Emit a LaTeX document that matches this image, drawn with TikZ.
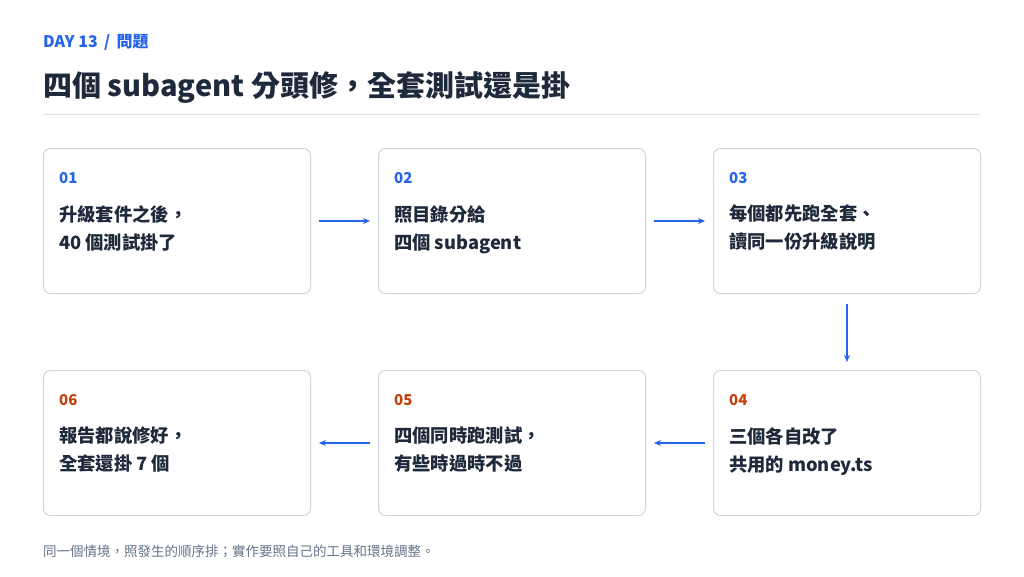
\documentclass[tikz,border=0pt]{standalone}
\usepackage{fontspec}
\setmainfont{Noto Sans CJK TC}
\usetikzlibrary{arrows.meta}
\definecolor{blu}{HTML}{2563EB}
\definecolor{org}{HTML}{C2410C}
\definecolor{ink}{HTML}{1E293B}
\definecolor{bd}{HTML}{CDD5DF}
\definecolor{gr}{HTML}{64748B}
\begin{document}
\begin{tikzpicture}[x=1pt,y=-1pt,
 box/.style={draw=bd,line width=1pt,rounded corners=7pt,minimum width=267pt,minimum height=145pt,anchor=north west},
 num/.style={anchor=west,font=\bfseries\fontsize{15}{15}\selectfont},
 txt/.style={anchor=north west,font=\bfseries\fontsize{18.3}{28}\selectfont,text=ink,align=left,inner sep=0pt},
 arr/.style={-{Stealth[length=7pt,width=6pt]},draw=blu,line width=1.2pt,shorten >=8pt,shorten <=8pt}]
\useasboundingbox (0,0) rectangle (1024,576);
\fill[white] (0,0) rectangle (1024,576);
\node[anchor=west,text=blu,font=\bfseries\fontsize{16}{16}\selectfont,inner sep=0pt] (tag) at (43,42) {DAY 13 \,/\, 問題};
\node[anchor=west,text=ink,font=\bfseries\fontsize{29}{29}\selectfont,inner sep=0pt] (title) at (43,87) {四個 subagent 分頭修，全套測試還是掛};
\draw[bd!70,line width=0.8pt] (43,114) -- (980,114);
\node[box] (b1) at (43,148) {};
\node[box] (b2) at (378,148) {};
\node[box] (b3) at (713,148) {};
\node[box] (b4) at (713,370) {};
\node[box] (b5) at (378,370) {};
\node[box] (b6) at (43,370) {};
\foreach \b/\n/\c/\t in {b1/01/blu/{升級套件之後，\\40 個測試掛了},b2/02/blu/{照目錄分給\\四個 subagent},b3/03/blu/{每個都先跑全套、\\讀同一份升級說明},b4/04/org/{三個各自改了\\共用的 money.ts},b5/05/org/{四個同時跑測試，\\有些時過時不過},b6/06/org/{報告都說修好，\\全套還掛 7 個}}{
 \node[num,text=\c,inner sep=0pt] (\b n) at ([xshift=16pt,yshift=-30pt]\b.north west) {\n};
 \node[txt] (\b t) at ([xshift=16pt,yshift=-57pt]\b.north west) {\t};
}
\draw[arr] (b1.east) -- (b2.west);
\draw[arr] (b2.east) -- (b3.west);
\draw[arr] ([yshift=-2pt]b3.south) -- (b4.north);
\draw[arr] (b4.west) -- (b5.east);
\draw[arr] (b5.west) -- (b6.east);
\node[anchor=west,text=gr,font=\fontsize{13.5}{14}\selectfont,inner sep=0pt] (foot) at (43,551) {同一個情境，照發生的順序排；實作要照自己的工具和環境調整。};
\end{tikzpicture}
\end{document}
